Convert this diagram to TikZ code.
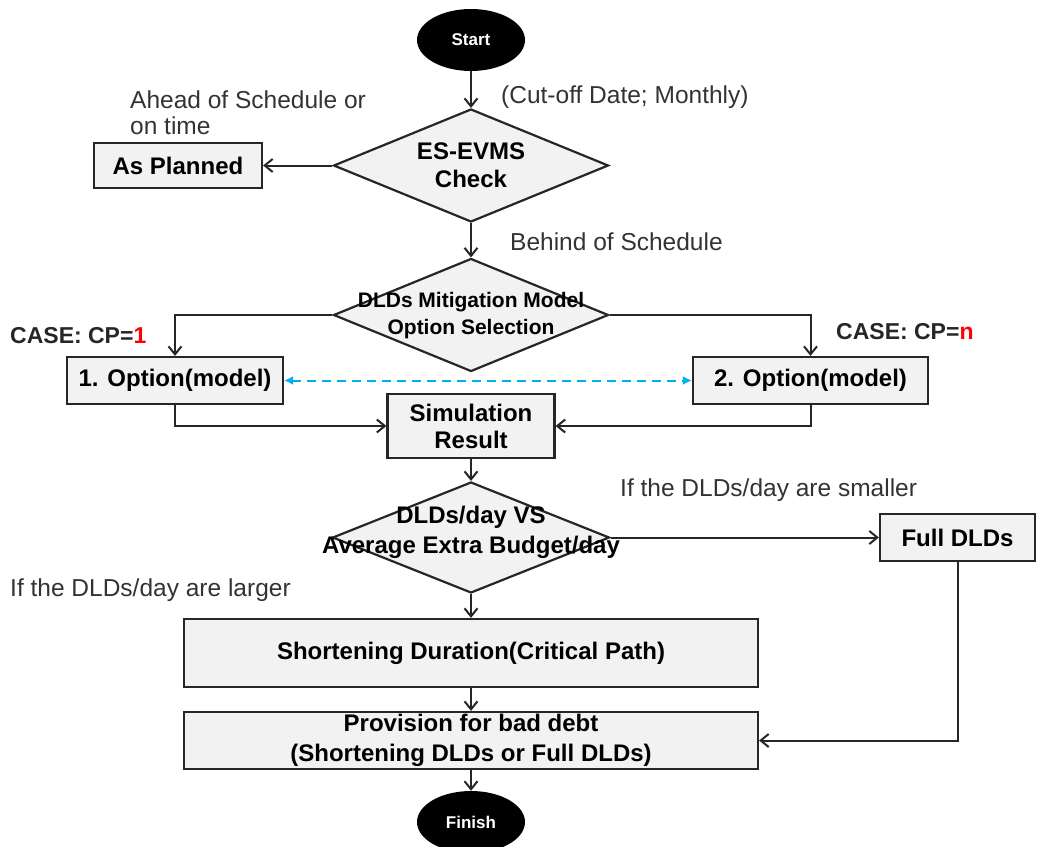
\documentclass[tikz,border=0pt]{standalone}
\usepackage{fontspec}
\setmainfont{Liberation Sans}
\usetikzlibrary{shapes.geometric, arrows.meta, positioning}
\definecolor{boxfill}{HTML}{F2F2F2}
\definecolor{edge}{HTML}{262626}
\definecolor{textgray}{HTML}{333333}
\definecolor{linkblue}{HTML}{00B0F0}

\begin{document}
\begin{tikzpicture}[
    x=1pt, y=-1pt,
    box/.style={rectangle, draw=edge, line width=2.2pt, fill=boxfill, inner sep=0pt, align=center, font=\fontsize{24}{27}\selectfont\bfseries},
    decision/.style={diamond, draw=edge, line width=2.2pt, fill=boxfill, inner sep=0pt, minimum width=275pt, minimum height=113pt},
    dtext/.style={align=center, inner sep=0pt, font=\fontsize{24}{28}\selectfont\bfseries},
    terminal/.style={ellipse, fill=black, text=white, minimum width=108pt, minimum height=62pt, inner sep=0pt, font=\fontsize{17}{20}\selectfont\bfseries},
    arrow/.style={->, >={Straight Barb[length=8pt, width=13pt]}, line width=2pt, draw=edge},
    note/.style={inner sep=0pt, text=textgray, align=left, font=\fontsize{24.5}{26}\selectfont},
    casetag/.style={inner sep=0pt, text=edge, font=\fontsize{23}{26}\selectfont\bfseries},
    swap/.style={<->, >={Latex[length=9pt, width=9pt]}, line width=2pt, draw=linkblue, dash pattern=on 9pt off 6pt}
  ]

  \useasboundingbox (0,0) rectangle (1038,846);

  % Flow nodes
  \node[terminal] (start) at (471,40) {Start};
  \node[decision] (check) at (471,165.5) {};
  \node[dtext] (checktext) at (check) {ES-EVMS\\Check};
  \node[box, minimum width=168pt, minimum height=45pt] (planned) at (178,165.5) {As Planned};

  \node[decision] (mitig) at (471,315) {};
  \node[dtext, font=\fontsize{21}{27}\selectfont\bfseries] (mitigtext) at (471,315.5) {DLDs Mitigation Model\\Option Selection};
  \node[box, minimum width=216pt, minimum height=47pt] (opt1) at (175,380.5) {1. Option(model)};
  \node[box, minimum width=235pt, minimum height=47pt] (opt2) at (810.5,380.5) {2. Option(model)};
  \node[box, minimum width=167pt, minimum height=64pt] (sim) at (471,426) {Simulation\\Result};

  \node[decision, minimum width=277pt, minimum height=111pt] (budget) at (471,537.5) {};
  \node[dtext, font=\fontsize{24}{30}\selectfont\bfseries] (budgettext) at (471,532) {DLDs/day VS\\Average Extra Budget/day};
  \node[box, minimum width=155pt, minimum height=47pt] (full) at (957.5,537.5) {Full DLDs};

  \node[box, minimum width=574pt, minimum height=68pt] (shorten) at (471,653) {Shortening Duration(Critical Path)};
  \node[box, minimum width=574pt, minimum height=57pt, font=\fontsize{24}{30}\selectfont\bfseries] (provision) at (471,740.5) {Provision for bad debt\\(Shortening DLDs or Full DLDs)};
  \node[terminal] (finish) at (471,822) {Finish};

  % Labels
  \node[note, anchor=west] (cutoff) at (501,97) {(Cut-off Date; Monthly)};
  \node[note, anchor=west] (ahead) at (130,113) {Ahead of Schedule or\\on time};
  \node[note, anchor=west] (behind) at (510,242) {Behind of Schedule};
  \node[casetag, anchor=west] (caseone) at (10,336) {CASE: CP=\textcolor{red}{1}};
  \node[casetag, anchor=west] (casen) at (836,332) {CASE: CP=\textcolor{red}{n}};
  \node[note, anchor=west] (smaller) at (620,490) {If the DLDs/day are smaller};
  \node[note, anchor=west] (larger) at (10,590) {If the DLDs/day are larger};

  % Connectors
  \draw[arrow] (start) -- (check);
  \draw[arrow] (check.west) -- (planned.east);
  \draw[arrow] (check.south) -- (mitig.north);
  \draw[arrow] (mitig.west) -| (opt1.north);
  \draw[arrow] (mitig.east) -| (opt2.north);
  \draw[swap] (opt1.east) -- (opt2.west);
  \draw[arrow] (opt1.south) |- (sim.west);
  \draw[arrow] (opt2.south) |- (sim.east);
  \draw[arrow] (sim.south) -- (budget.north);
  \draw[arrow] (budget.east) -- (full.west);
  \draw[arrow] (budget.south) -- (shorten.north);
  \draw[arrow] (shorten.south) -- (provision.north);
  \draw[arrow] (full.south) |- (provision.east);
  \draw[arrow] (provision.south) -- (finish.north);

\end{tikzpicture}
\end{document}
